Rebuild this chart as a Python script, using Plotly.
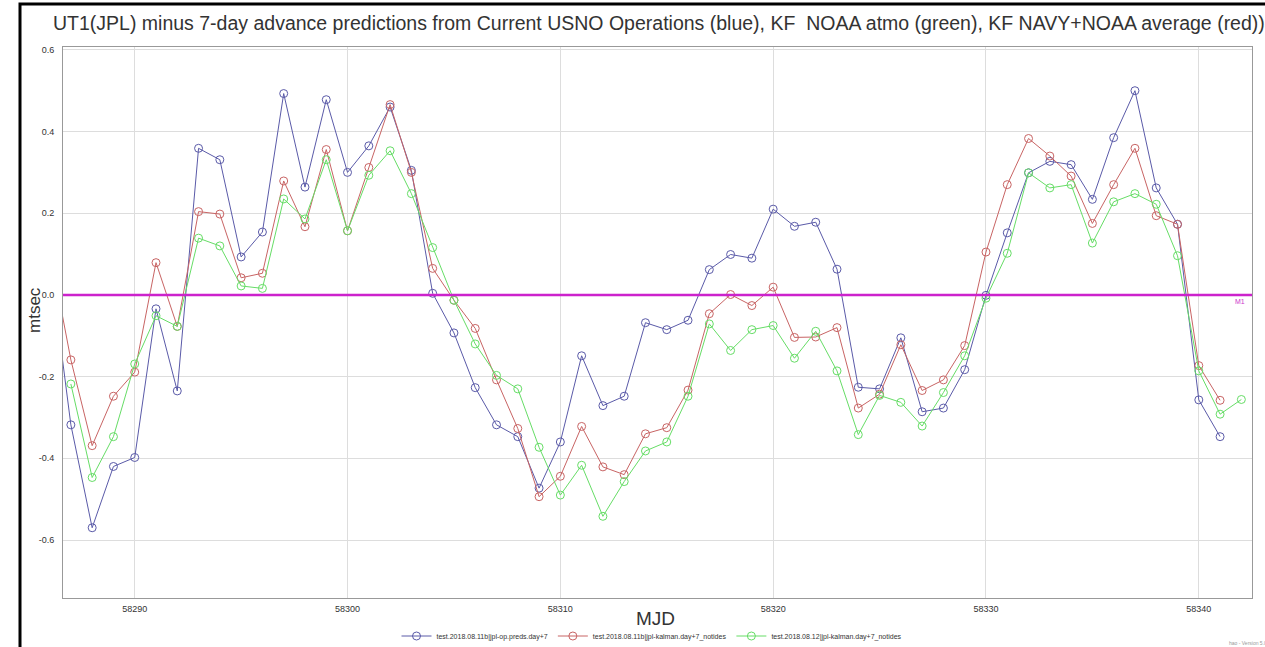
import plotly.graph_objects as go

# MJD days for each prediction series
mjd_ops = list(range(58286, 58342))
mjd_kf_avg = list(range(58286, 58342))
mjd_kf_noaa = list(range(58287, 58343))

# UT1(JPL) minus 7-day predictions, mtsec
ops_preds = [
    0.087, -0.318, -0.570, -0.420, -0.398, -0.034, -0.235, 0.359, 0.331, 0.093,
    0.154, 0.493, 0.264, 0.478, 0.300, 0.365, 0.460, 0.305, 0.004, -0.093,
    -0.227, -0.318, -0.347, -0.473, -0.360, -0.149, -0.271, -0.248, -0.068, -0.085,
    -0.062, 0.062, 0.099, 0.090, 0.210, 0.168, 0.178, 0.063, -0.226, -0.230,
    -0.105, -0.286, -0.277, -0.183, -0.001, 0.152, 0.299, 0.327, 0.319, 0.234,
    0.385, 0.500, 0.262, 0.173, -0.257, -0.347,
]
kf_avg = [
    0.114, -0.159, -0.369, -0.248, -0.189, 0.079, -0.077, 0.204, 0.198, 0.042,
    0.053, 0.279, 0.167, 0.356, 0.157, 0.312, 0.466, 0.300, 0.065, -0.013,
    -0.082, -0.208, -0.327, -0.494, -0.444, -0.322, -0.421, -0.440, -0.340, -0.325,
    -0.233, -0.046, 0.001, -0.026, 0.019, -0.104, -0.103, -0.080, -0.277, -0.243,
    -0.122, -0.234, -0.208, -0.124, 0.105, 0.270, 0.383, 0.340, 0.291, 0.175,
    0.270, 0.359, 0.194, 0.173, -0.173, -0.258,
]
kf_noaa = [
    -0.218, -0.447, -0.347, -0.169, -0.051, -0.077, 0.139, 0.120, 0.022, 0.016,
    0.235, 0.186, 0.331, 0.157, 0.293, 0.353, 0.248, 0.116, -0.013, -0.120,
    -0.197, -0.230, -0.373, -0.490, -0.417, -0.542, -0.457, -0.382, -0.360, -0.248,
    -0.071, -0.136, -0.085, -0.075, -0.155, -0.089, -0.186, -0.342, -0.246, -0.263,
    -0.321, -0.239, -0.149, -0.008, 0.102, 0.299, 0.262, 0.270, 0.127, 0.228,
    0.248, 0.222, 0.096, -0.186, -0.292, -0.256,
]

series_names = [
    "test.2018.08.11b|jpl-op.preds.day+7",
    "test.2018.08.11b|jpl-kalman.day+7_notides",
    "test.2018.08.12|jpl-kalman.day+7_notides",
]

x_ticks = [58290, 58300, 58310, 58320, 58330, 58340]
x_tick_text = ["58290", "58300", "58310", "58320", "58330", "58340"]
y_ticks = [-0.6, -0.4, -0.2, 0.0, 0.2, 0.4, 0.6]
y_tick_text = ["-0.6", "-0.4", "-0.2", "0.0", "0.2", "0.4", "0.6"]

W, H = 1265, 647
L, R, T, B = 63, 1252, 47, 598

fig = go.Figure()

styles = [
    (mjd_ops, ops_preds, "#5a5aa8"),
    (mjd_kf_avg, kf_avg, "#c86464"),
    (mjd_kf_noaa, kf_noaa, "#66dd66"),
]
for (xs, ys, col), name in zip(styles, series_names):
    fig.add_trace(go.Scatter(
        x=xs, y=ys, name=name, mode="lines+markers",
        line=dict(color=col, width=1),
        marker=dict(symbol="circle-open", size=8, color=col, line=dict(width=1, color=col)),
    ))

# zero reference line
fig.add_hline(y=0, line=dict(color="#cc22cc", width=2.5), layer="above")

fig.update_layout(
    width=W, height=H,
    margin=dict(l=L, r=W - R, t=T, b=H - B, autoexpand=False),
    paper_bgcolor="white", plot_bgcolor="white",
    font=dict(family="Liberation Sans, Arial, sans-serif", color="#333"),
    title=dict(
        text="UT1(JPL) minus 7-day advance predictions from Current USNO Operations (blue), KF  NOAA atmo (green), KF NAVY+NOAA average (red))",
        x=53 / W, xanchor="left", xref="container",
        y=1 - 23 / H, yanchor="middle", yref="container",
        font=dict(size=19.5, color="#333"),
    ),
    xaxis=dict(
        range=[58286.63, 58342.5], tickvals=x_ticks, ticktext=x_tick_text,
        showgrid=True, gridcolor="#dddddd", gridwidth=1,
        showline=True, linecolor="#999999", linewidth=1, mirror=True,
        zeroline=False, ticks="", tickfont=dict(size=9, color="#333"),
        ticklabelstandoff=2,
    ),
    yaxis=dict(
        range=[-0.742, 0.607], tickvals=y_ticks, ticktext=y_tick_text,
        showgrid=True, gridcolor="#dddddd", gridwidth=1,
        showline=True, linecolor="#999999", linewidth=1, mirror=True,
        zeroline=False, ticks="", tickfont=dict(size=9, color="#333"),
        ticklabelstandoff=6,
    ),
    legend=dict(
        orientation="h", x=(652 - L) / (R - L), xanchor="center",
        y=(B - 636) / (B - T), yanchor="middle",
        font=dict(size=7, color="#333"), itemwidth=30,
        bgcolor="rgba(0,0,0,0)",
    ),
    showlegend=True,
)

def px_x(p):
    return (p - L) / (R - L)

def px_y(p):
    return (B - p) / (B - T)

fig.add_annotation(text="MJD", x=px_x(655), y=px_y(618), xref="paper", yref="paper",
                   showarrow=False, font=dict(size=19, color="#333"), xanchor="center", yanchor="middle")
fig.add_annotation(text="mtsec", x=px_x(34), y=px_y(310), xref="paper", yref="paper",
                   showarrow=False, textangle=-90, font=dict(size=17, color="#333"),
                   xanchor="center", yanchor="middle")
fig.add_annotation(text="M1", x=px_x(1247), y=px_y(301), xref="paper", yref="paper",
                   showarrow=False, font=dict(size=7, color="#cc33cc"), xanchor="right", yanchor="middle")
fig.add_annotation(text="hao - Version 5.0", x=px_x(1227), y=px_y(643), xref="paper", yref="paper",
                   showarrow=False, font=dict(size=5, color="#999"), xanchor="left", yanchor="middle")

# window frame
fig.add_shape(type="rect", xref="paper", yref="paper",
              x0=px_x(20), x1=px_x(1290), y0=px_y(670), y1=px_y(4),
              line=dict(color="black", width=3), fillcolor="rgba(0,0,0,0)", layer="above")

fig.write_html("out.html")
